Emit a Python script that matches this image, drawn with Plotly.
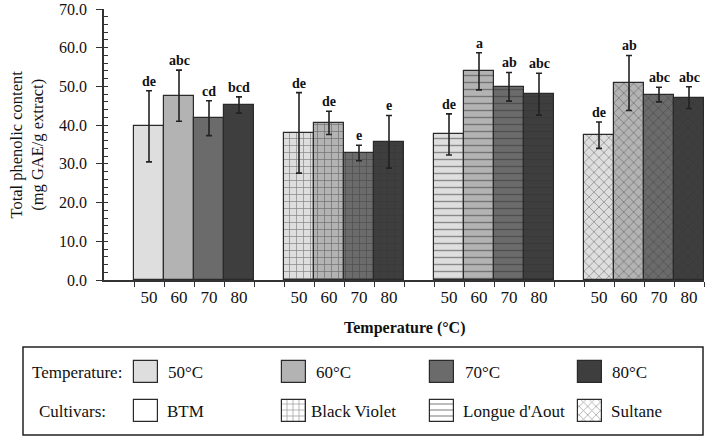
import plotly.graph_objects as go

cultivars = ["BTM", "Black Violet", "Longue d'Aout", "Sultane"]
temp_labels = ["50", "60", "70", "80"]
legend_temp_labels = ["50°C", "60°C", "70°C", "80°C"]

tpc_50 = [39.7, 38.0, 37.6, 37.4]
tpc_60 = [47.6, 40.6, 53.9, 50.9]
tpc_70 = [41.8, 32.8, 49.9, 47.9]
tpc_80 = [45.2, 35.7, 48.0, 47.1]

sd_50 = [9.2, 10.4, 5.3, 3.4]
sd_60 = [6.6, 3.0, 4.8, 7.1]
sd_70 = [4.5, 2.0, 3.7, 1.9]
sd_80 = [2.1, 6.8, 5.4, 2.8]

letters_50 = ["de", "de", "de", "de"]
letters_60 = ["abc", "de", "a", "ab"]
letters_70 = ["cd", "e", "ab", "abc"]
letters_80 = ["bcd", "e", "abc", "abc"]

y_ticks = [0, 10, 20, 30, 40, 50, 60, 70]

# ---- styling ----
FONT = "Liberation Serif, Times New Roman, serif"
temp_colors = ["#dedede", "#b3b3b3", "#6b6b6b", "#3e3e3e"]
cultivar_patterns = ["", "+", "-", "x"]
EDGE = "#2a2a2a"

means = [tpc_50, tpc_60, tpc_70, tpc_80]
sds = [sd_50, sd_60, sd_70, sd_80]
letters = [letters_50, letters_60, letters_70, letters_80]

n_temp = len(temp_labels)
group_span = n_temp + 1  # one empty slot between groups


def bar_pos(g, t):
    return 1.5 + group_span * g + t


fig = go.Figure()
annotations = []
center_vals, center_text, edge_vals = [], [], []
for g in range(len(cultivars)):
    for t in range(n_temp):
        center_vals.append(bar_pos(g, t))
        center_text.append(temp_labels[t])
    for t in range(n_temp + 1):
        edge_vals.append(bar_pos(g, t) - 0.5)

for t in range(n_temp):
    xs = [bar_pos(g, t) for g in range(len(cultivars))]
    fig.add_trace(go.Bar(
        x=xs, y=means[t], width=1.0,
        marker=dict(color=temp_colors[t], line=dict(color=EDGE, width=1.2),
                    pattern=dict(shape=cultivar_patterns, fgcolor="#333333",
                                 size=7, solidity=0.2)),
        error_y=dict(type="data", array=sds[t], color="#222", thickness=1.6, width=3),
        showlegend=False, xaxis="x", yaxis="y",
    ))
    for g in range(len(cultivars)):
        annotations.append(dict(
            x=xs[g], y=means[t][g] + sds[t][g], xref="x", yref="y",
            text=letters[t][g], showarrow=False, yanchor="bottom", yshift=0,
            font=dict(family=FONT, size=14, color="#111", weight="bold"),
        ))

# invisible trace to carry the overlay y axis (inside ticks)
fig.add_trace(go.Scatter(x=[0], y=[0], mode="markers", marker=dict(opacity=0),
                         xaxis="x", yaxis="y5", showlegend=False, hoverinfo="skip"))

# ---- custom legend (inset axis) ----
col_centers = [1.4, 6.33, 11.27, 16.2]
row_temp = (52, 22)
row_cult = (13, 22)
fig.add_trace(go.Bar(
    x=col_centers, y=[row_temp[1]] * 4, base=[row_temp[0]] * 4, width=0.8,
    marker=dict(color=temp_colors, line=dict(color=EDGE, width=1.2)),
    xaxis="x3", yaxis="y3", showlegend=False, hoverinfo="skip",
))
fig.add_trace(go.Bar(
    x=col_centers, y=[row_cult[1]] * 4, base=[row_cult[0]] * 4, width=0.8,
    marker=dict(color="white", line=dict(color=EDGE, width=1.2),
                pattern=dict(shape=cultivar_patterns, fgcolor="#333333", size=6, solidity=0.22)),
    xaxis="x3", yaxis="y3", showlegend=False, hoverinfo="skip",
))
for i in range(4):
    annotations.append(dict(x=col_centers[i] + 0.68, y=row_temp[0] + row_temp[1] / 2,
                            xref="x3", yref="y3", text=legend_temp_labels[i],
                            showarrow=False, xanchor="left", yanchor="middle",
                            font=dict(family=FONT, size=17, color="#111")))
    annotations.append(dict(x=col_centers[i] + (0.5 if i == 1 else 0.62),
                            y=row_cult[0] + row_cult[1] / 2,
                            xref="x3", yref="y3", text=cultivars[i],
                            showarrow=False, xanchor="left", yanchor="middle",
                            font=dict(family=FONT, size=17, color="#111")))

W, H = 709, 440
ML, MR, MT, MB = 104, 5, 9, 5
plot_h = H - MT - MB
main_bottom = (H - MB - 280) / plot_h
leg_top = (H - MB - 347) / plot_h

annotations.append(dict(x=-0.1235, y=63 / 88 * leg_top, xref="paper", yref="paper",
                        text="Temperature:", showarrow=False, xanchor="left", yanchor="middle",
                        font=dict(family=FONT, size=17, color="#111")))
annotations.append(dict(x=-0.112, y=24 / 88 * leg_top, xref="paper", yref="paper",
                        text="Cultivars:", showarrow=False, xanchor="left", yanchor="middle",
                        font=dict(family=FONT, size=17, color="#111")))
annotations.append(dict(x=-0.13, y=(main_bottom + 1) / 2, xref="paper", yref="paper",
                        text="Total phenolic content<br>(mg GAE/g extract)", textangle=-90,
                        showarrow=False, xanchor="center", yanchor="middle",
                        font=dict(family=FONT, size=16.5, color="#111")))
annotations.append(dict(x=0.5, y=(H - MB - 328) / plot_h, xref="paper", yref="paper",
                        text="Temperature (°C)", showarrow=False, xanchor="center", yanchor="middle",
                        font=dict(family=FONT, size=16, color="#111", weight="bold")))

fig.update_layout(
    width=W, height=H, margin=dict(l=ML, r=MR, t=MT, b=MB, autoexpand=False),
    paper_bgcolor="white", plot_bgcolor="white",
    bargap=0, barmode="overlay",
    font=dict(family=FONT, color="#111"),
    xaxis=dict(range=[0, 20], domain=[0, 1], anchor="y", showgrid=False, zeroline=False,
               automargin=False,
               tickmode="array", tickvals=center_vals, ticktext=center_text,
               ticks="outside", ticklen=1, tickcolor="rgba(0,0,0,0)",
               tickfont=dict(family=FONT, size=17, color="#111"),
               showline=True, linecolor="#333", linewidth=1.5,
               minor=dict(tickmode="array", tickvals=edge_vals, ticks="outside",
                          ticklen=5, tickwidth=1.3, tickcolor="#333")),
    yaxis=dict(range=[0, 70], domain=[main_bottom, 1], anchor="x", showgrid=False, zeroline=False,
               automargin=False,
               tickmode="array", tickvals=y_ticks, ticktext=[f"{v:.1f}" for v in y_ticks],
               ticks="outside", ticklen=6, tickwidth=1.3, tickcolor="#333",
               tickfont=dict(family=FONT, size=16, color="#111"), ticklabelstandoff=6,
               showline=True, linecolor="#333", linewidth=1.5),
    yaxis5=dict(range=[0, 70], overlaying="y", anchor="x", side="left", showgrid=False,
                automargin=False,
                zeroline=False, showticklabels=False, tickmode="linear", tick0=0, dtick=2,
                ticks="inside", ticklen=4, tickwidth=1.1, tickcolor="#333", showline=False),
    xaxis3=dict(range=[0, 20], domain=[0, 1], anchor="y3", visible=False, automargin=False),
    yaxis3=dict(range=[0, 88], domain=[0, leg_top], anchor="x3", visible=False, automargin=False),
    annotations=annotations,
    shapes=[dict(type="rect", xref="paper", yref="paper",
                 x0=(23 - ML) / (W - ML - MR), x1=(703 - ML) / (W - ML - MR),
                 y0=0, y1=leg_top, line=dict(color="#222", width=1.5), fillcolor="rgba(0,0,0,0)")],
)

fig.write_html("out.html")
